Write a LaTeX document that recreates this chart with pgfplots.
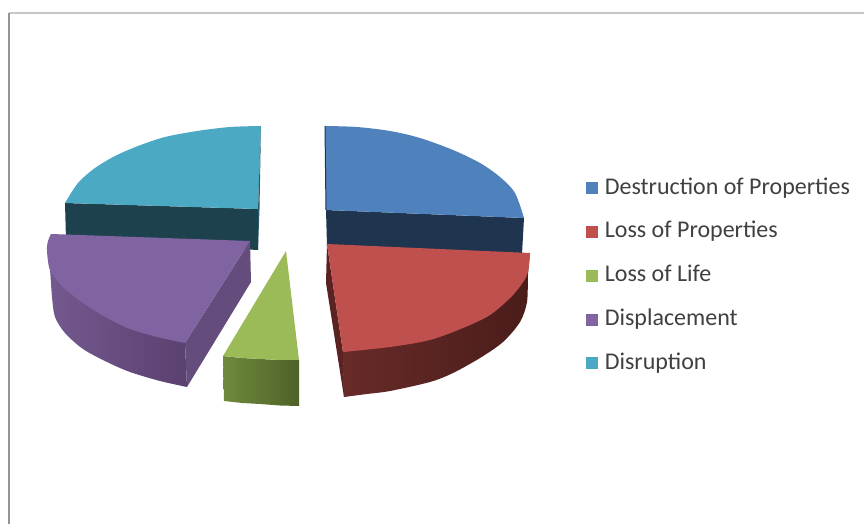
\documentclass[border=0pt]{standalone}
\usepackage{pgfplots}
\pgfplotsset{compat=1.18}
\usepackage{fontspec}
\setmainfont{Carlito}
\definecolor{cblue}{HTML}{4F81BD}
\definecolor{cbluedk}{HTML}{1E344F}
\definecolor{cred}{HTML}{C0504D}
\definecolor{creddk}{HTML}{4A1C1A}
\definecolor{credm}{HTML}{4E1E1C}
\definecolor{credl}{HTML}{672B28}
\definecolor{credc}{HTML}{5A2321}
\definecolor{cgreen}{HTML}{9BBB59}
\definecolor{cgreenl}{HTML}{6F8A3D}
\definecolor{cgreend}{HTML}{4E6128}
\definecolor{cpurple}{HTML}{8064A2}
\definecolor{cpurplel}{HTML}{74598F}
\definecolor{cpurpled}{HTML}{5A416F}
\definecolor{cpurplec}{HTML}{644C7C}
\definecolor{cteal}{HTML}{4BA9C4}
\definecolor{ctealdk}{HTML}{1D424E}
\definecolor{ctxt}{HTML}{404040}
\begin{document}
\begin{tikzpicture}
\begin{axis}[
  scale only axis, width=432pt, height=262pt,
  xmin=0, xmax=864, ymin=0, ymax=524, y dir=reverse,
  hide axis, clip=true,
  legend cell align=left,
  legend style={at={(axis cs:586,175)}, anchor=north west, draw=none, fill=none,
    font=\fontsize{12}{13}\selectfont\color{ctxt}, row sep=8.5pt,
    inner sep=0pt, outer sep=0pt,
    /tikz/every even column/.append style={column sep=0pt},
    nodes={inner sep=1.5pt, text height=8pt, text depth=2.4pt}},
  legend image code/.code={\fill[#1, draw=none] (0pt,-2.9pt) rectangle (6pt,3.1pt); \path (0pt,0pt) (7.5pt,0pt);},
]
% page extent
\addplot[draw=none, forget plot] coordinates {(0,0)(864,524)};
% frame
\addplot[draw=black!22, line width=1pt, forget plot] coordinates {(9,13.5)(864,13.5)};
\addplot[draw=black!42, line width=1.1pt, forget plot] coordinates {(9,13)(9,524)};

% Disruption
\addplot[draw=none, fill=ctealdk, forget plot] coordinates {(65,203)(258,209)(258,250)(66,240)} --cycle;
\addplot[draw=none, fill=cteal, smooth, forget plot] coordinates {(261,126)(230,127)(197,131)(165,137)(138,146)(115,156)(95,168)(78,183)(65,203)} --cycle;
\addplot[draw=none, fill=cteal, forget plot] coordinates {(261,126)(197,134)(138,149)(95,171)(65,203)(258,209)} --cycle;
\addplot[draw=none, fill=cteal!55!black, forget plot] coordinates {(261,126)(258,209)(258,250)(259.5,209)} --cycle;

% Destruction of Properties
\addplot[draw=none, fill=cbluedk, forget plot] coordinates {(326,210)(524,218)(522,254)(327,246)} --cycle;
\addplot[draw=none, fill=cblue, smooth, forget plot] coordinates {(325,126)(357,127)(390,131)(420,138)(453,150)(480,163)(500,177)(515,193)(524,218)} --cycle;
\addplot[draw=none, fill=cblue, forget plot] coordinates {(325,126)(390,134)(453,153)(500,180)(524,218)(326,210)} --cycle;
\addplot[draw=none, fill=cbluedk, forget plot] coordinates {(324.5,126)(325.5,126)(326.5,210)(325.5,210)} --cycle;

% Displacement
\addplot[draw=none, smooth, left color=cpurplel, right color=cpurpled, forget plot] coordinates {(47,250)(50,270)(52,297)(55,317)(65,333)(83,349)(107,362)(130,372)(160,381)(187,387)} --cycle;
\addplot[draw=none, left color=cpurplel, right color=cpurpled, forget plot] coordinates {(47,250)(83,340)(130,362)(187,387)(185,343)} --cycle;
\addplot[draw=none, fill=cpurplec, forget plot] coordinates {(250,241)(251,282)(187,387)(185,343)} --cycle;
\addplot[draw=none, fill=cpurple, smooth, forget plot] coordinates {(185,343)(157,337)(130,329)(107,318)(83,303)(63,287)(50,270)(47,250)(48,241)(51,234)} --cycle;
\addplot[draw=none, fill=cpurple, forget plot] coordinates {(51,234)(250,241)(185,343)(130,326)(83,300)(52,268)} --cycle;

% Loss of Life
\addplot[draw=none, left color=cgreenl, right color=cgreend, forget plot] coordinates {(223,356)(224,401)(242,403)(260,404)(280,405.5)(299,406)(299,360)(280,360)(260,359)(242,358)} --cycle;
\addplot[draw=none, fill=cgreen, forget plot] coordinates {(286,251)(299,360)(280,360)(260,359)(242,358)(223,356)} --cycle;

% Loss of Properties
\addplot[draw=none, fill=credc, forget plot] coordinates {(327,244)(326,283)(344,397)(343,352)} --cycle;
\addplot[draw=none, smooth, left color=credl, middle color=credm, right color=creddk, forget plot] coordinates {(344,397)(367,394)(390,391)(430,382)(453,373)(480,358)(503,342)(520,322)(527,302)(528,275)(530,253)} --cycle;
\addplot[draw=none, left color=credl, middle color=credm, right color=creddk, forget plot] coordinates {(343,352)(344,397)(430,372)(503,330)(530,253)} --cycle;
\addplot[draw=none, fill=cred, smooth, forget plot] coordinates {(530,253)(527,275)(513,295)(490,315)(463,328)(430,340)(390,347)(343,352)} --cycle;
\addplot[draw=none, fill=cred, forget plot] coordinates {(327,244)(530,253)(513,292)(463,325)(390,344)(343,352)} --cycle;

% legend
\addlegendimage{fill=cblue}\addlegendentry{Destruction of Properties}
\addlegendimage{fill=cred}\addlegendentry{Loss of Properties}
\addlegendimage{fill=cgreen}\addlegendentry{Loss of Life}
\addlegendimage{fill=cpurple}\addlegendentry{Displacement}
\addlegendimage{fill=cteal}\addlegendentry{Disruption}
\end{axis}
\end{tikzpicture}
\end{document}
